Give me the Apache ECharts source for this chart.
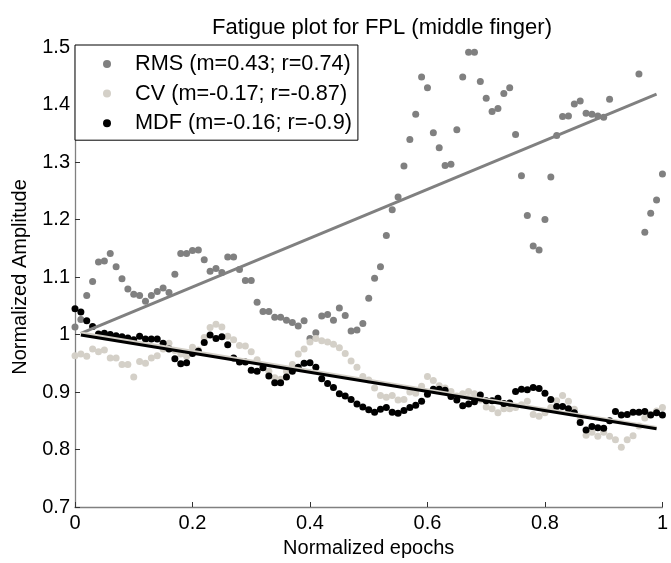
<!DOCTYPE html>
<html>
<head>
<meta charset="utf-8">
<script src="https://cdn.jsdelivr.net/npm/echarts@6/dist/echarts.min.js"></script>
<style>
  html, body { margin: 0; padding: 0; background: #fff; }
  #chart { width: 671px; height: 563px; }
</style>
</head>
<body>
<div id="chart"></div>
<script>
// normalized epoch positions
var epochs = [0, 0.01, 0.02, 0.03, 0.04, 0.05, 0.06, 0.07, 0.08, 0.09,
  0.10, 0.11, 0.12, 0.13, 0.14, 0.15, 0.16, 0.17, 0.18, 0.19,
  0.20, 0.21, 0.22, 0.23, 0.24, 0.25, 0.26, 0.27, 0.28, 0.29,
  0.30, 0.31, 0.32, 0.33, 0.34, 0.35, 0.36, 0.37, 0.38, 0.39,
  0.40, 0.41, 0.42, 0.43, 0.44, 0.45, 0.46, 0.47, 0.48, 0.49,
  0.50, 0.51, 0.52, 0.53, 0.54, 0.55, 0.56, 0.57, 0.58, 0.59,
  0.60, 0.61, 0.62, 0.63, 0.64, 0.65, 0.66, 0.67, 0.68, 0.69,
  0.70, 0.71, 0.72, 0.73, 0.74, 0.75, 0.76, 0.77, 0.78, 0.79,
  0.80, 0.81, 0.82, 0.83, 0.84, 0.85, 0.86, 0.87, 0.88, 0.89,
  0.90, 0.91, 0.92, 0.93, 0.94, 0.95, 0.96, 0.97, 0.98, 0.99, 1.00]

// RMS (null = outside the plotted range)
var rms = [1.013, 1.026, 1.068, 1.092, 1.126, 1.128, 1.141, 1.118, 1.097, 1.079,
  1.070, 1.068, 1.058, 1.068, 1.075, 1.081, 1.073, 1.105, 1.141, 1.141,
  1.146, 1.147, 1.130, 1.110, 1.115, 1.108, 1.135, 1.135, 1.113, 1.094,
  1.094, 1.056, 1.040, 1.040, 1.030, 1.030, 1.025, 1.021, 1.015, 1.024,
  0.993, 1.003, 1.032, 1.035, 1.025, 1.046, 1.033, 1.006, 1.008, 1.019,
  1.063, 1.098, 1.118, 1.172, 1.217, 1.239, 1.293, 1.339, 1.383, 1.448,
  1.429, 1.351, 1.325, 1.294, 1.296, 1.356, 1.448, 1.491, 1.491, 1.440,
  1.411, 1.388, 1.393, 1.419, 1.429, 1.348, 1.276, 1.207, 1.154, 1.147,
  1.200, 1.274, 1.346, 1.379, 1.380, 1.401, 1.406, 1.385, 1.383, 1.380,
  1.378, 1.409, null, null, null, null, 1.453, 1.178, 1.211, 1.234, 1.279]

// CV
var cv = [0.963, 0.966, 0.962, 0.975, 0.970, 0.973, 0.959, 0.959, 0.948, 0.948,
  0.926, 0.953, 0.950, 0.959, 0.963, 0.975, 0.985, 0.972, 0.966, 0.962,
  0.978, 0.973, 0.995, 1.012, 1.018, 1.013, 0.997, 0.991, 0.981, 0.980,
  0.970, 0.956, 0.945, 0.936, 0.925, 0.922, 0.936, 0.948, 0.966, 0.975,
  0.987, 0.993, 0.989, 0.987, 0.983, 0.977, 0.967, 0.954, 0.943, 0.927,
  0.921, 0.907, 0.894, 0.891, 0.894, 0.886, 0.887, 0.900, 0.898, 0.910,
  0.927, 0.920, 0.911, 0.907, 0.901, 0.893, 0.897, 0.901, 0.897, 0.886,
  0.874, 0.871, 0.864, 0.871, 0.871, 0.873, 0.878, 0.884, 0.861, 0.858,
  0.864, 0.873, 0.885, 0.894, 0.884, 0.870, 0.852, 0.825, 0.830, 0.823,
  0.830, 0.823, 0.817, 0.804, 0.817, 0.824, 0.841, 0.855, 0.861, 0.867, 0.873]

// MDF
var mdf = [1.045, 1.039, 1.024, 1.014, 1.001, 1.002, 1.000, 0.998, 0.996, 0.994,
  0.991, 0.997, 0.992, 0.992, 0.992, 0.985, 0.975, 0.958, 0.949, 0.951,
  0.967, 0.971, 0.986, 0.999, 0.993, 0.996, 0.982, 0.959, 0.952, 0.952,
  0.938, 0.936, 0.942, 0.928, 0.916, 0.916, 0.926, 0.936, 0.943, 0.950,
  0.951, 0.943, 0.923, 0.915, 0.908, 0.897, 0.893, 0.887, 0.879, 0.874,
  0.869, 0.865, 0.870, 0.873, 0.865, 0.863, 0.868, 0.873, 0.877, 0.884,
  0.896, 0.905, 0.905, 0.903, 0.892, 0.886, 0.876, 0.879, 0.883, 0.895,
  0.885, 0.885, 0.889, 0.880, 0.881, 0.901, 0.905, 0.904, 0.908, 0.906,
  0.898, 0.887, 0.875, 0.875, 0.871, 0.864, 0.847, 0.834, 0.840, 0.838,
  0.837, 0.850, 0.866, 0.860, 0.861, 0.865, 0.865, 0.866, 0.860, 0.864, 0.860]

// linear fits, start and end
var fitX = [0.01, 0.99]
var rmsFit = [1.002, 1.418]
var cvFit = [1.002, 0.838]
var mdfFit = [0.999, 0.836]

var legendNames = ['RMS (m=0.43; r=0.74)', 'CV (m=-0.17; r=-0.87)', 'MDF (m=-0.16; r=-0.9)']

var font = "'Liberation Sans', Arial, sans-serif"

function pairs(xs, ys) {
  var out = []
  for (var i = 0; i < xs.length; i++) {
    if (ys[i] !== null) out.push([xs[i], ys[i]])
  }
  return out
}

var chart = echarts.init(document.getElementById('chart'), null, { renderer: 'canvas' })

var option = {
  animation: false,
  backgroundColor: '#fff',
  title: {
    text: 'Fatigue plot for FPL (middle finger)',
    left: 377,
    textAlign: 'center',
    top: 12,
    textStyle: { fontFamily: font, fontSize: 22, fontWeight: 'normal', color: '#000' }
  },
  legend: {
    data: legendNames,
    orient: 'vertical',
    left: 75,
    top: 45,
    padding: [8, 6, 6, 28],
    itemWidth: 8,
    itemHeight: 8,
    itemGap: 7.6,
    icon: 'circle',
    borderColor: '#000',
    borderWidth: 1,
    borderRadius: 0,
    backgroundColor: '#fff',
    textStyle: { fontFamily: font, fontSize: 21.7, color: '#000', lineHeight: 20, padding: [0, 0, 0, 19] }
  },
  grid: { left: 75, right: 7, top: 47, bottom: 51 },
  xAxis: {
    type: 'value',
    min: 0,
    max: 1,
    interval: 0.2,
    name: 'Normalized epochs',
    nameLocation: 'middle',
    nameGap: 31,
    nameTextStyle: { fontFamily: font, fontSize: 20, color: '#000' },
    axisLine: { show: true, lineStyle: { color: '#808080', width: 1.3 } },
    axisTick: { show: true, inside: true, length: 5, lineStyle: { color: '#333' } },
    axisLabel: { fontFamily: font, fontSize: 20, color: '#000', margin: 6 },
    splitLine: { show: false }
  },
  yAxis: {
    type: 'value',
    min: 0.7,
    max: 1.5,
    interval: 0.1,
    name: 'Normalized Amplitude',
    nameLocation: 'middle',
    nameGap: 45,
    nameTextStyle: { fontFamily: font, fontSize: 20, color: '#000' },
    axisLine: { show: true, lineStyle: { color: '#808080', width: 1.3 } },
    axisTick: { show: true, inside: true, length: 5, lineStyle: { color: '#333' } },
    axisLabel: { fontFamily: font, fontSize: 20, color: '#000', margin: 5 },
    splitLine: { show: false }
  },
  series: [{
    name: legendNames[0],
    type: 'scatter',
    symbolSize: 7,
    itemStyle: { color: '#808080', opacity: 1 },
    data: pairs(epochs, rms),
    z: 2
  }, {
    name: legendNames[1],
    type: 'scatter',
    symbolSize: 7,
    itemStyle: { color: '#d4d0c8', opacity: 1 },
    data: pairs(epochs, cv),
    z: 2
  }, {
    name: legendNames[2],
    type: 'scatter',
    symbolSize: 7,
    itemStyle: { color: '#000', opacity: 1 },
    data: pairs(epochs, mdf),
    z: 2
  }, {
    name: 'RMS fit',
    type: 'line',
    showSymbol: false,
    silent: true,
    lineStyle: { color: '#808080', width: 3 },
    data: pairs(fitX, rmsFit),
    z: 3
  }, {
    name: 'CV fit',
    type: 'line',
    showSymbol: false,
    silent: true,
    lineStyle: { color: '#d4d0c8', width: 3.5 },
    data: pairs(fitX, cvFit),
    z: 3
  }, {
    name: 'MDF fit',
    type: 'line',
    showSymbol: false,
    silent: true,
    lineStyle: { color: '#000', width: 3 },
    data: pairs(fitX, mdfFit),
    z: 4
  }]
}

chart.setOption(option)
</script>
</body>
</html>
